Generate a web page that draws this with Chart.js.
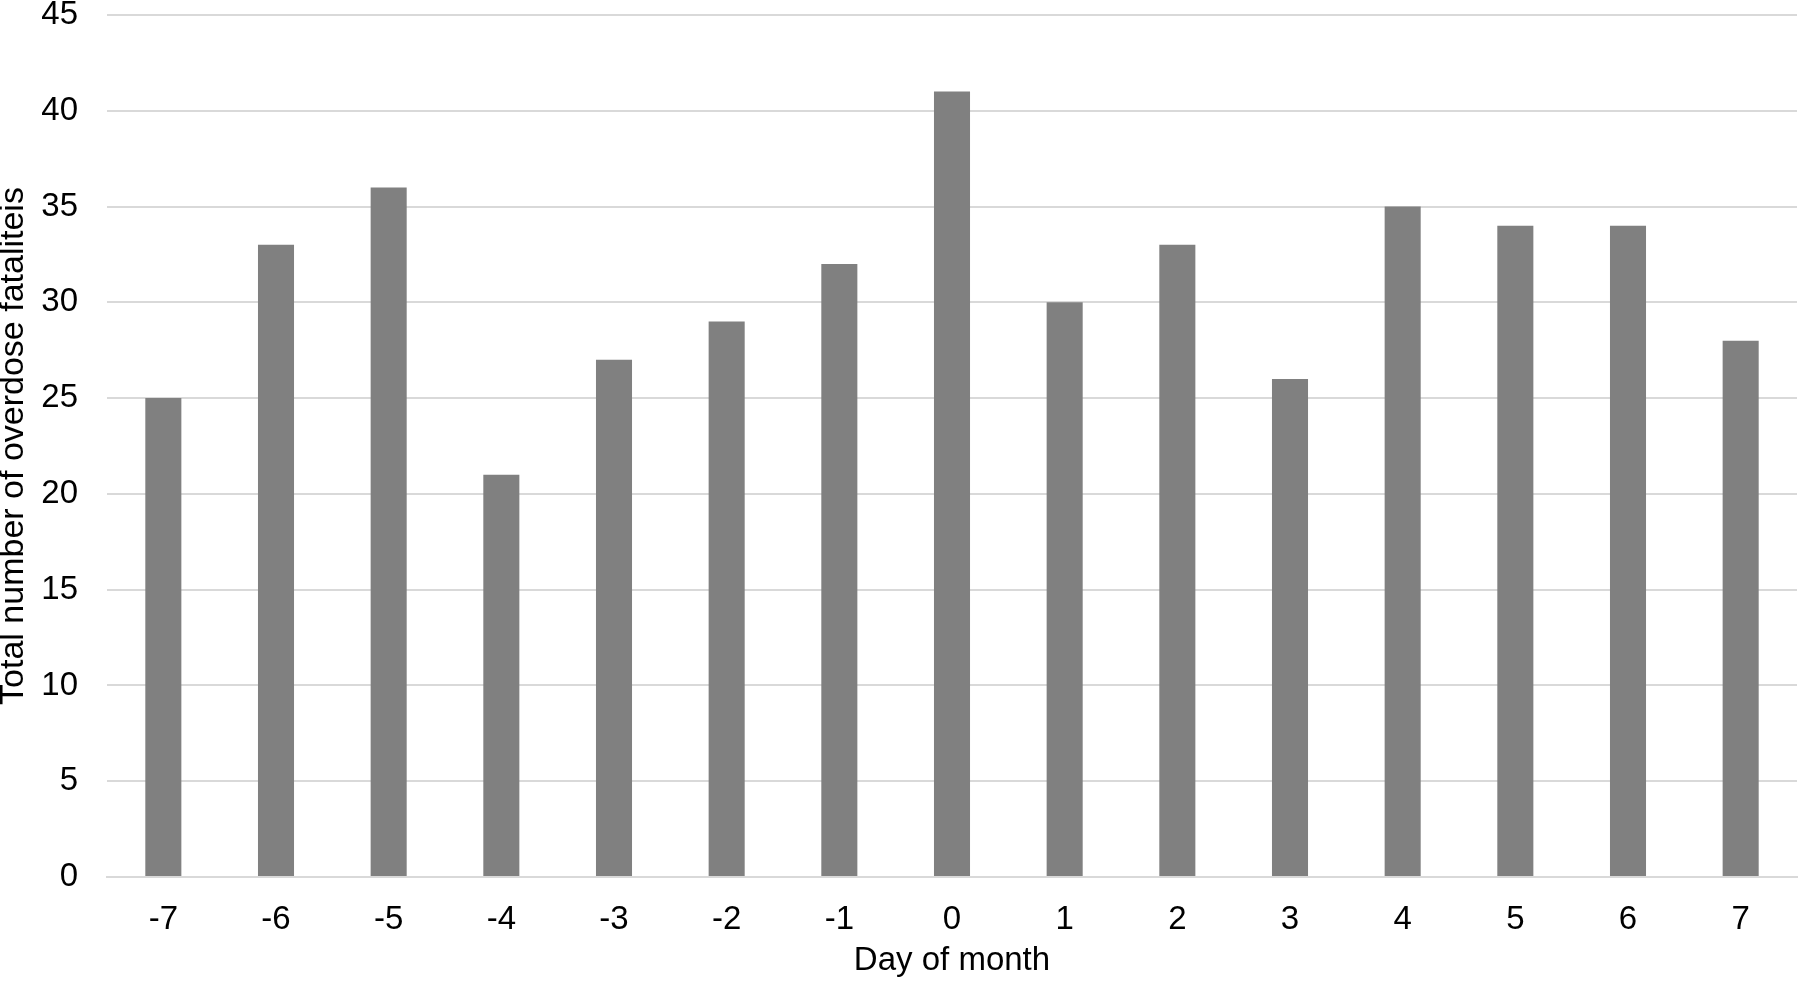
<!DOCTYPE html>
<html>
<head>
<meta charset="utf-8">
<script src="https://cdn.jsdelivr.net/npm/chart.js@4"></script>
<style>
  html, body { margin: 0; padding: 0; background: #fff; }
  #wrap { width: 1800px; height: 981px; }
</style>
</head>
<body>
<div id="wrap"><canvas id="barChart"></canvas></div>
<script>
// data
const days = ['-7', '-6', '-5', '-4', '-3', '-2', '-1', '0', '1', '2', '3', '4', '5', '6', '7'];
const fatalities = [25, 33, 36, 21, 27, 29, 32, 41, 30, 33, 26, 35, 34, 34, 28];
const yTicks = [0, 5, 10, 15, 20, 25, 30, 35, 40, 45];

Chart.defaults.font.family = "'Liberation Sans', Arial, sans-serif";
Chart.defaults.color = '#000';

const gridColor = '#d9d9d9';

const ctx = document.getElementById('barChart').getContext('2d');
new Chart(ctx, {
    type: 'bar',
    data: {
        labels: days,
        datasets: [{
            label: 'Total number of overdose fataliteis',
            data: fatalities,
            backgroundColor: '#808080',
            borderWidth: 0,
            categoryPercentage: 1.0,
            barPercentage: 0.32
        }]
    },
    options: {
        responsive: true,
        maintainAspectRatio: false,
        animation: false,
        layout: { padding: { top: 0, right: 3, bottom: 0, left: 0 } },
        plugins: {
            legend: { display: false },
            tooltip: { enabled: false }
        },
        scales: {
            x: {
                grid: { display: false, drawTicks: false },
                border: { display: true, color: gridColor, width: 2 },
                ticks: { font: { size: 33 }, padding: 23, maxRotation: 0 },
                title: {
                    display: true,
                    text: 'Day of month',
                    font: { size: 33 },
                    padding: { top: 2, bottom: 0 }
                },
                afterFit: function(scale) { scale.height = 104; }
            },
            y: {
                min: 0,
                max: 45,
                afterBuildTicks: function(scale) {
                    scale.ticks = yTicks.map(v => ({ value: v }));
                },
                grid: { color: gridColor, lineWidth: 2, drawTicks: false },
                border: { display: false },
                ticks: { font: { size: 33, lineHeight: 1 }, padding: 29 },
                title: {
                    display: true,
                    text: 'Total number of overdose fataliteis',
                    font: { size: 34, lineHeight: 1 },
                    padding: { top: -3, bottom: 0 }
                },
                afterFit: function(scale) {
                    scale.width = 107;
                    scale.paddingTop = 15;
                }
            }
        }
    }
});
</script>
</body>
</html>
